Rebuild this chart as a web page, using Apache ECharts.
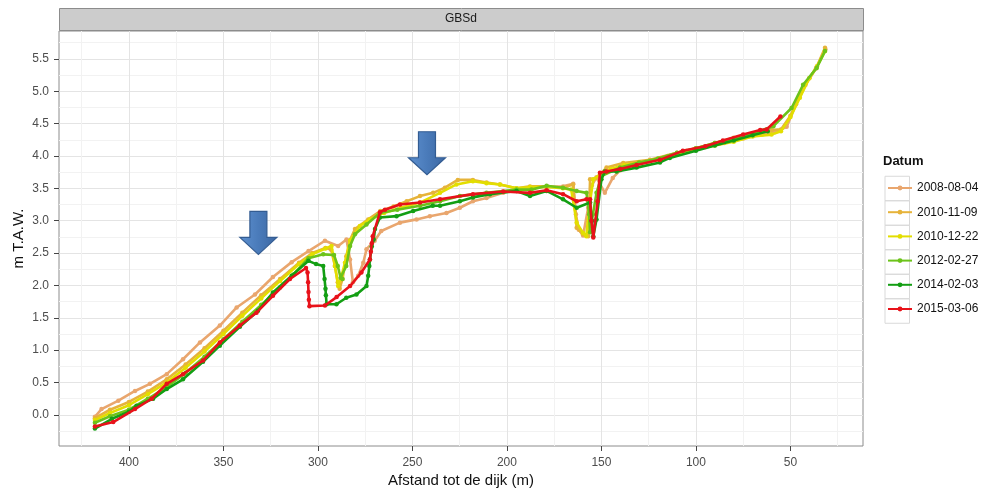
<!DOCTYPE html>
<html><head><meta charset="utf-8">
<script src="https://cdn.jsdelivr.net/npm/echarts@6/dist/echarts.min.js"></script>
<style>html,body{margin:0;padding:0;background:#fff}#c{width:987px;height:493px}</style>
</head><body><div id="c"></div>
<script>
const panelTitle = 'GBSd';
const dates = ['2008-08-04','2010-11-09','2010-12-22','2012-02-27','2014-02-03','2015-03-06'];
const colors = ['#E9A66E','#E6B33A','#E3DE00','#6CC31A','#139E13','#E8121A'];

const x2008 = [418,414.5,405.6,396.8,388.9,380,371.4,362.4,351.9,343,333.3,323.8,313.9,305,296.3,289.3,284.9,283,281.5,278.7,276,274.3,270,266.5,256.6,247.8,240.8,232,224.9,218,210.8,202,194.9,187.8,179,170.3,164.9,163.5,162,159.7,157,155,152.6,148.2,144,140,133,125,115,105,95,85,75,65,58,52,47,42,36.5,31.5];
const y2008 = [-0.03,0.09,0.22,0.37,0.48,0.63,0.86,1.12,1.38,1.66,1.86,2.13,2.36,2.53,2.69,2.61,2.71,2.4,2.05,2.15,2.35,2.56,2.69,2.84,2.97,3.02,3.07,3.12,3.20,3.30,3.35,3.43,3.48,3.51,3.52,3.53,3.57,3.1,2.86,2.77,3.2,3.55,3.67,3.43,3.66,3.78,3.86,3.92,4.0,4.08,4.14,4.2,4.27,4.33,4.37,4.45,4.8,5.1,5.35,5.65];

const x2010a = [418,410,400,390,380,370,360,350,340,330,320,310,303,296,293,291,289.5,288.5,287,285,283,280.4,273.4,267,260,253,246,239,232.8,226,218,210.8,203.7,194.9,187.8,179,170.4,165,163.1,159.7,157,156,152.6,147.3,138.5,124.3,110,100,90,80,70,60,55,50,45,40,36,31.7];
const y2010a = [-0.05,0.08,0.2,0.36,0.55,0.78,1.03,1.3,1.58,1.85,2.1,2.35,2.5,2.58,2.55,2.3,2.05,1.95,2.1,2.45,2.7,2.87,3.02,3.15,3.22,3.3,3.38,3.43,3.51,3.63,3.63,3.59,3.56,3.50,3.53,3.53,3.51,3.56,2.89,2.79,2.76,3.64,3.66,3.82,3.89,3.94,4.05,4.12,4.2,4.28,4.35,4.4,4.41,4.62,4.95,5.2,5.38,5.67];

const x2010b = [418,410,400,390,380,370,360,350,340,330,320,310,303,296,292.8,291,289.3,287.5,285.7,283,277.8,272.5,265,256,246,235.4,226.7,218,210.8,203.7,195,187.8,179,170.4,166,163.1,159.7,158,156.5,154.3,150.8,145,138,130,120,110,100,90,80,70,60,55,50,45,40,36,31.7];
const y2010b = [-0.08,0.03,0.15,0.32,0.5,0.73,0.98,1.25,1.53,1.8,2.07,2.33,2.48,2.57,2.61,2.3,1.99,2.15,2.35,2.69,2.92,3.02,3.12,3.2,3.28,3.43,3.56,3.61,3.58,3.56,3.5,3.52,3.52,3.5,3.48,2.97,2.81,2.76,3.2,3.64,3.71,3.8,3.86,3.9,3.95,4.02,4.1,4.16,4.22,4.3,4.33,4.38,4.6,4.9,5.2,5.38,5.62];

const x2012 = [418,410,400,390,380,370,360,350,340,330,320,313,305,297.2,291.5,289.5,288,287,285,283,280.4,274.3,267.2,258,246,235.4,224.9,210.8,194.9,187,179,170.4,163.1,157.9,156.5,156,154.5,152.6,150,140.2,130,120,110,100,90,80,70,59,49.4,43.3,36.1,31.7];
const y2012 = [-0.12,-0.02,0.08,0.25,0.43,0.65,0.9,1.17,1.44,1.7,1.97,2.17,2.42,2.48,2.47,2.3,2.12,2.1,2.3,2.61,2.79,2.94,3.12,3.17,3.23,3.30,3.38,3.43,3.48,3.48,3.54,3.51,3.46,3.43,3.1,2.82,3.1,3.43,3.69,3.82,3.9,3.96,4.05,4.12,4.2,4.27,4.35,4.46,4.74,5.1,5.36,5.62];

const x2014 = [418,409,400,396,387.2,380,371.4,360.8,351.9,341.3,331.7,323.8,313.9,305,301,297.2,296.5,296,295.8,295.4,290.2,285,279.6,274.3,273.4,272.8,272.5,271.5,270.5,269.8,267.2,258.4,249.6,239.2,235.4,224.9,218,209,194.9,187.8,179,170.3,163.1,156,155,154.3,152.6,150,148.2,142,131.4,119,113.8,100,90,80,70,62];
const y2014 = [-0.21,-0.06,0.05,0.14,0.25,0.4,0.55,0.82,1.07,1.36,1.61,1.89,2.15,2.38,2.33,2.30,2.1,1.95,1.85,1.71,1.71,1.81,1.86,1.99,2.15,2.3,2.40,2.6,2.71,2.87,3.05,3.07,3.15,3.23,3.23,3.30,3.36,3.41,3.46,3.38,3.46,3.33,3.20,3.28,3.0,2.76,3.02,3.64,3.76,3.76,3.82,3.90,3.97,4.08,4.16,4.24,4.32,4.38];

const x2015 = [418,408.3,396.8,388,380,371.4,360.8,351.9,341.3,332.5,323.8,314.8,306.3,305.5,305.2,305,304.8,304.5,296.3,290.1,283,277,272.5,272,271.5,271,267.2,264.5,256.6,246,235.4,218,202,187.8,179,170.3,163.1,157.9,156,155.3,154.3,152,150.8,147.3,140,131.4,119,106.9,95,85.7,75,66,62.6,55.3];
const y2015 = [-0.18,-0.11,0.09,0.25,0.48,0.63,0.84,1.12,1.38,1.58,1.84,2.1,2.27,2.2,2.05,1.9,1.78,1.68,1.69,1.82,1.99,2.2,2.40,2.52,2.65,2.76,3.13,3.17,3.25,3.28,3.33,3.41,3.45,3.43,3.47,3.41,3.30,3.33,3.33,3.0,2.74,3.3,3.74,3.76,3.8,3.86,3.94,4.08,4.15,4.24,4.33,4.4,4.41,4.61];

const xTicks = [50,100,150,200,250,300,350,400];
const xMinor = [25,75,125,175,225,275,325,375,425];
const yTicks = [0,0.5,1,1.5,2,2.5,3,3.5,4,4.5,5,5.5];
const yMinor = [-0.25,0.25,0.75,1.25,1.75,2.25,2.75,3.25,3.75,4.25,4.75,5.25,5.75];
const arrowTips = [[331.5, 2.48], [242.3, 3.71]];

const xsAll = [x2008, x2010a, x2010b, x2012, x2014, x2015];
const ysAll = [y2008, y2010a, y2010b, y2012, y2014, y2015];

const FONT = '"Liberation Sans", Arial, sans-serif';
const chart = echarts.init(document.getElementById('c'), null, {renderer: 'canvas'});

const GL = 59, GT = 31, GR = 863, GB = 447;
const xr = [11.6, 437], yr = [-0.48, 5.93];

function xAxisDef(vals, main) {
  return {
    type: 'value', inverse: true, min: xr[0], max: xr[1], gridIndex: 0, position: 'bottom',
    axisLine: {show: false, onZero: false},
    axisTick: {show: main, customValues: vals, length: 5, lineStyle: {color: '#444', width: 1}},
    axisLabel: {show: main, customValues: vals, margin: 11, color: '#4D4D4D', fontSize: 12, fontFamily: FONT},
    splitLine: {show: true, lineStyle: {color: main ? '#E4E4E4' : '#F2F2F2', width: 1}},
    name: main ? 'Afstand tot de dijk (m)' : '', nameLocation: 'middle', nameGap: 27, nameMoveOverlap: false,
    nameTextStyle: {fontSize: 15, color: '#111', fontFamily: FONT}
  };
}
function yAxisDef(vals, main) {
  return {
    type: 'value', min: yr[0], max: yr[1], gridIndex: 0, position: 'left',
    axisLine: {show: false, onZero: false},
    axisTick: {show: main, customValues: vals, length: 5, lineStyle: {color: '#444', width: 1}},
    axisLabel: {show: main, customValues: vals, margin: 10, color: '#4D4D4D', fontSize: 12, fontFamily: FONT,
      formatter: v => v.toFixed(1)},
    splitLine: {show: true, lineStyle: {color: main ? '#E4E4E4' : '#F2F2F2', width: 1}},
    name: main ? 'm T.A.W.' : '', nameLocation: 'middle', nameGap: 33, nameMoveOverlap: false,
    nameTextStyle: {fontSize: 15, color: '#111', fontFamily: FONT}
  };
}

const series = dates.map((d, i) => ({
  name: d, type: 'line', xAxisIndex: 0, yAxisIndex: 0,
  data: xsAll[i].map((x, j) => [x, ysAll[i][j]]),
  symbol: 'circle', symbolSize: 4.5, showAllSymbol: true,
  lineStyle: {color: colors[i], width: 2.6},
  itemStyle: {color: colors[i]},
  emphasis: {disabled: true}, z: 3 + i
}));

const legendBoxes = dates.map((d, i) => ({
  type: 'rect', left: 882.5, top: 173.75 + i * 24.5,
  shape: {width: 24.5, height: 24.5},
  style: {fill: 'none', stroke: '#D9D9D9', lineWidth: 1}, z: 1
}));

chart.setOption({
  animation: false,
  backgroundColor: '#ffffff',
  textStyle: {fontFamily: FONT},
  grid: {left: GL, top: GT, right: 987 - GR, bottom: 493 - GB, show: true, borderColor: '#8C8C8C', borderWidth: 1, backgroundColor: '#fff'},
  xAxis: [xAxisDef(xTicks, true), xAxisDef(xMinor, false)],
  yAxis: [yAxisDef(yTicks, true), yAxisDef(yMinor, false)],
  legend: {
    data: dates, orient: 'vertical', left: 882, top: 176,
    itemWidth: 24, itemHeight: 6, itemGap: 10.2,
    textStyle: {fontSize: 12, color: '#111', fontFamily: FONT, lineHeight: 14},
    selectedMode: false
  },
  series: series,
  graphic: [
    {type: 'rect', left: GL, top: 8, shape: {width: GR - GL, height: 22},
     style: {fill: '#CCCCCC', stroke: '#8C8C8C', lineWidth: 1}},
    {type: 'text', x: (GL + GR) / 2, y: 19,
     style: {text: panelTitle, fontSize: 12, fill: '#1A1A1A', font: '12px ' + FONT, textAlign: 'center', textVerticalAlign: 'middle'}},
    {type: 'text', x: 883, y: 161,
     style: {text: 'Datum', font: 'bold 13px ' + FONT, fill: '#111', textAlign: 'left', textVerticalAlign: 'middle'}},
    ...legendBoxes
  ]
});

// arrows anchored in data coordinates
const arrowShape = [[-8.5,-43],[8.5,-43],[8.5,-17],[18.5,-17],[0,0],[-18.5,-17],[-8.5,-17]];
const arrows = arrowTips.map((t, i) => {
  const p = chart.convertToPixel({xAxisIndex: 0, yAxisIndex: 0}, t);
  return {
    type: 'polygon', id: 'arrow' + i, z: 100,
    shape: {points: arrowShape.map(q => [p[0] + q[0], p[1] + q[1]])},
    style: {
      fill: new echarts.graphic.LinearGradient(0, 0, 1, 0, [
        {offset: 0, color: '#5E90CF'}, {offset: 0.5, color: '#4A7BBA'}, {offset: 1, color: '#3C67A2'}]),
      stroke: '#335C92', lineWidth: 1.2
    }
  };
});
chart.setOption({graphic: arrows});
</script>
</body></html>
